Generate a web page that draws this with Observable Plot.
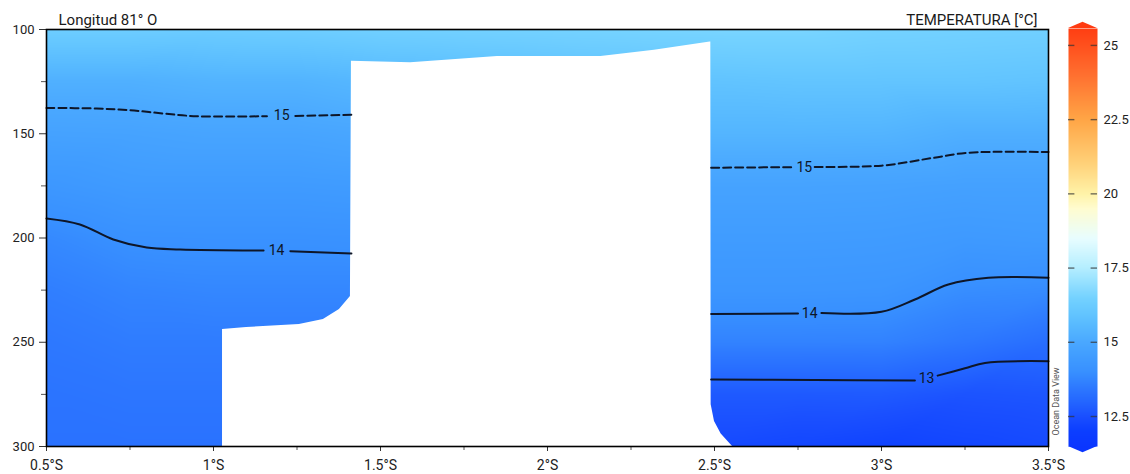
<!DOCTYPE html>
<html><head><meta charset="utf-8">
<script src="https://cdn.jsdelivr.net/npm/d3@7"></script>
<script src="https://cdn.jsdelivr.net/npm/@observablehq/plot@0.6"></script>
<style>
body{margin:0;background:#fff;}
#wrap{position:relative;width:1130px;height:474px;overflow:hidden;font-family:Roboto,sans-serif;}
#wrap svg{position:absolute;top:0;overflow:visible;}
</style></head><body><div id="wrap"></div>
<script>
// ---- data ----
const lats = [0.5, 0.75, 1.0, 1.25, 1.5, 1.75, 2.0, 2.25, 2.5, 2.75, 3.0, 3.25, 3.5];
const depths = [100, 125, 150, 175, 200, 225, 250, 275, 300];
const t100 = [16.3, 16.3, 16.25, 16.3, 16.4, 16.45, 16.5, 16.55, 16.6, 16.6, 16.5, 16.45, 16.4];
const t125 = [15.25, 15.25, 15.35, 15.35, 15.5, 15.6, 15.7, 15.8, 15.9, 15.95, 15.95, 15.95, 15.9];
const t150 = [14.75, 14.78, 14.85, 14.85, 14.95, 15.0, 15.1, 15.2, 15.4, 15.4, 15.38, 15.2, 15.2];
const t175 = [14.3, 14.45, 14.45, 14.45, 14.5, 14.55, 14.6, 14.7, 14.78, 14.78, 14.76, 14.7, 14.7];
const t200 = [13.85, 14.05, 14.07, 14.07, 14.1, 14.2, 14.3, 14.4, 14.5, 14.5, 14.48, 14.4, 14.45];
const t225 = [13.6, 13.75, 13.8, 13.8, 13.8, 13.85, 13.9, 14.0, 14.25, 14.25, 14.22, 13.95, 13.9];
const t250 = [13.45, 13.55, 13.55, 13.55, 13.55, 13.6, 13.62, 13.65, 13.7, 13.7, 13.69, 13.45, 13.2];
const t275 = [13.35, 13.4, 13.4, 13.4, 13.3, 13.2, 13.1, 13.0, 12.73, 12.73, 12.75, 12.6, 12.65];
const t300 = [13.3, 13.3, 13.3, 13.3, 13.1, 12.9, 12.7, 12.5, 12.35, 12.25, 12.15, 12.25, 12.35];
const tempRows = [t100, t125, t150, t175, t200, t225, t250, t275, t300];

// data gap (no observations) outline: latitude and top depth
const gapLat = [1.027, 1.099, 1.257, 1.329, 1.377, 1.41, 1.413, 1.59, 1.85, 2.16, 2.32, 2.487, 2.489, 2.49, 2.50, 2.52, 2.554];
const gapTop = [243.9, 242.9, 241.5, 239.1, 234.3, 228, 115.2, 116, 113, 113, 110, 106, 106, 280, 288, 294, 300];

// isotherms [lat, depth]
const c15Left1 = [[0.5,137.6],[0.65,137.9],[0.75,138.7],[0.85,140.3],[0.95,141.6],[1.16,141.6]];
const c15Left2 = [[1.245,141.5],[1.413,140.9]];
const c15Right1 = [[2.49,166.3],[2.74,166.0]];
const c15Right2 = [[2.80,165.9],[3.0,165.3],[3.15,161.7],[3.26,159.1],[3.5,158.8]];
const c14Left1 = [[0.5,190.6],[0.6,193.5],[0.7,200.7],[0.8,204.6],[0.9,205.5],[1.15,206]];
const c14Left2 = [[1.23,206.3],[1.413,207.4]];
const c14Right1 = [[2.49,236.4],[2.75,236.2]];
const c14Right2 = [[2.82,236.0],[3.0,235.4],[3.1,229.5],[3.2,222.3],[3.32,219.1],[3.5,219.1]];
const c13Right1 = [[2.49,267.9],[2.8,268.1],[3.10,268.3]];
const c13Right2 = [[3.168,266.0],[3.25,262.5],[3.31,259.9],[3.5,259.1]];
const contourLabels = [
  {lat:1.204, depth:141.3, text:"15"},
  {lat:1.189, depth:206.2, text:"14"},
  {lat:2.769, depth:166.0, text:"15"},
  {lat:2.785, depth:236.0, text:"14"},
  {lat:3.135, depth:267.2, text:"13"}
];

const xTicks = [0.5, 1, 1.5, 2, 2.5, 3, 3.5];
const xMinor = [0.75, 1.25, 1.75, 2.25, 2.75, 3.25];
const yTicks = [100, 150, 200, 250, 300];
const yMinor = [125, 175, 225, 275];
const barTicks = [12.5, 15, 17.5, 20, 22.5, 25];
const barDomain = [11.49, 25.57];

const colorStops = [11.3, 12.0, 12.5, 13.0, 13.5, 14.0, 14.5, 15.0, 15.5, 16.0, 16.5, 17.5, 18.5, 19.5, 20.0, 21.0, 22.5, 24.0, 25.7];
const colorHex = ["#0a34ff","#0c3eff","#1a4fff","#2466ff","#2e7aff","#3890ff","#409cff","#4aa8ff","#56b8ff","#64c6ff","#74d2ff","#b4eeff","#e8fdff","#fffcd0","#fff3a8","#ffd27a","#ffa646","#ff7030","#ff3a10"];

// ---- build tables ----
const field = [];
depths.forEach((d, i) => lats.forEach((l, j) => field.push({lat: l, depth: d, t: tempRows[i][j]})));
const gap = gapLat.map((l, i) => ({lat: l, top: gapTop[i]}));
const seg = (arr, id) => arr.map(([lat, depth]) => ({lat, depth, id}));
const dashed = [...seg(c15Left1,"a"), ...seg(c15Left2,"b"), ...seg(c15Right1,"c"), ...seg(c15Right2,"d")];
const solid = [...seg(c14Left1,"a"), ...seg(c14Left2,"b"), ...seg(c14Right1,"c"), ...seg(c14Right2,"d"), ...seg(c13Right1,"e"), ...seg(c13Right2,"f")];

const colorOpts = {type: "linear", domain: colorStops, range: colorHex, interpolate: "rgb"};
const lineColor = "#0e1628";

const main = Plot.plot({
  width: 1130, height: 474,
  marginLeft: 46, marginRight: 82, marginTop: 29, marginBottom: 28,
  style: {fontFamily: "Roboto, sans-serif", fontSize: "13px", color: "#222", background: "transparent"},
  x: {domain: [0.5, 3.5]},
  y: {domain: [100, 300], reverse: true},
  color: colorOpts,
  marks: [
    Plot.raster(field, {x: "lat", y: "depth", fill: "t", interpolate: "barycentric", x1: 0.5, x2: 3.5, y1: 100, y2: 300}),
    Plot.areaY(gap, {x: "lat", y1: "top", y2: 300, fill: "white"}),
    Plot.line(dashed, {x: "lat", y: "depth", z: "id", stroke: lineColor, strokeWidth: 2, strokeDasharray: "8,4", curve: "catmull-rom"}),
    Plot.line(solid, {x: "lat", y: "depth", z: "id", stroke: lineColor, strokeWidth: 2, curve: "catmull-rom"}),
    Plot.text(contourLabels, {x: "lat", y: "depth", text: "text", fill: lineColor, fontSize: 14}),
    Plot.axisX({ticks: xTicks, tickSize: 5, tickPadding: 9, fontSize: 14, tickFormat: d => d + "°S", label: null, stroke: "#333"}),
    Plot.axisX({ticks: xMinor, tickSize: 4, tickFormat: () => "", label: null, stroke: "#555"}),
    Plot.axisY({ticks: yTicks, tickSize: 7, tickPadding: 5, fontSize: 13, label: null, stroke: "#333"}),
    Plot.axisY({ticks: yMinor, tickSize: 5, tickFormat: () => "", label: null, stroke: "#555"}),
    Plot.frame({stroke: "#000", strokeWidth: 1.6}),
    Plot.text(["Longitud 81° O"], {text: d => d, frameAnchor: "top-left", dx: 12, dy: -5, lineAnchor: "bottom", textAnchor: "start", fontSize: 15, fill: "#1a1a1a"}),
    Plot.text(["TEMPERATURA [°C]"], {text: d => d, frameAnchor: "top-right", dx: -11, dy: -5, lineAnchor: "bottom", textAnchor: "end", fontSize: 15, fill: "#1a1a1a"})
  ]
});
main.style.left = "0px";

const topArrow = [{x: 0, y: barDomain[1]}, {x: 0.5, y: barDomain[1] + 0.21}, {x: 1, y: barDomain[1]}];
const botArrow = [{x: 0, y: barDomain[0]}, {x: 0.5, y: barDomain[0] - 0.21}, {x: 1, y: barDomain[0]}];

const bar = Plot.plot({
  width: 80, height: 474,
  marginLeft: 18, marginRight: 33, marginTop: 28, marginBottom: 28,
  style: {fontFamily: "Roboto, sans-serif", fontSize: "13px", color: "#222", background: "transparent"},
  x: {domain: [0, 1], axis: null},
  y: {domain: barDomain, axis: null},
  color: colorOpts,
  marks: [
    Plot.raster({fill: (x, y) => y, x1: 0, x2: 1, y1: barDomain[0], y2: barDomain[1]}),
    Plot.areaY(topArrow, {x: "x", y1: barDomain[1], y2: "y", fill: "#ff3a10"}),
    Plot.areaY(botArrow, {x: "x", y1: barDomain[0], y2: "y", fill: "#0a36ff"}),
    Plot.ruleY(barTicks, {y: d => d, x1: 0, x2: 0.22, stroke: "#333", strokeOpacity: 0.7, strokeWidth: 1.4}),
    Plot.ruleY(barTicks, {y: d => d, x1: 0.78, x2: 1, stroke: "#333", strokeOpacity: 0.7, strokeWidth: 1.4}),
    Plot.text(barTicks, {x: 1, y: d => d, text: d => String(d), dx: 6, textAnchor: "start", fontSize: 13, fill: "#222"}),
    Plot.text(["Ocean Data View"], {text: d => d, frameAnchor: "bottom-left", dx: -10, dy: -11, rotate: -90, textAnchor: "start", fontSize: 9, fill: "#555"})
  ]
});
bar.style.left = "1050px";

const wrap = document.getElementById("wrap");
wrap.appendChild(main);
wrap.appendChild(bar);
</script></body></html>
